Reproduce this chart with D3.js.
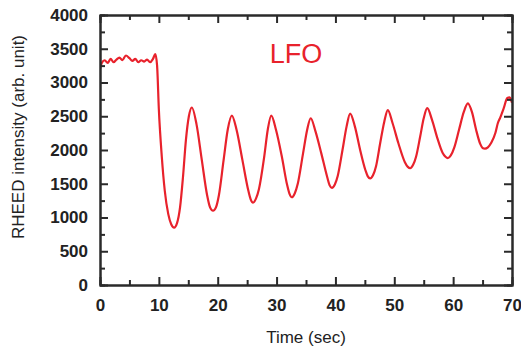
<!DOCTYPE html>
<html>
<head>
<meta charset="utf-8">
<script src="https://cdn.jsdelivr.net/npm/d3@7"></script>
<style>
  html, body { margin: 0; padding: 0; background: #fff; }
  svg { display: block; font-family: "Liberation Sans", Arial, sans-serif; }
</style>
</head>
<body>
<svg id="chart" width="521" height="346"></svg>
<script>
// RHEED intensity oscillations during LFO growth
const timeSec = [
  0, 0.3, 0.8, 1.3, 1.8, 2.3, 2.8, 3.3, 3.8, 4.4, 5, 5.5, 6, 6.5, 7, 7.5, 8, 8.5, 9, 9.4,
  9.7, 10.0, 10.5, 11.0, 11.6, 12.1, 12.6, 13.1, 13.6, 14.1, 14.6, 15.1, 15.6,
  16.4, 17.3, 18.2, 18.7, 19.2, 19.7, 20.2, 21.0, 21.7, 22.4,
  23.2, 24.2, 25.2, 25.6, 26.0, 26.5, 27.0, 27.9, 28.5, 29.1,
  29.9, 30.9, 31.8, 32.2, 32.6, 33.1, 33.6, 34.5, 35.2, 35.8,
  36.6, 37.6, 38.6, 39.0, 39.4, 39.9, 40.4, 41.2, 41.9, 42.5,
  43.3, 44.2, 45.1, 45.5, 45.9, 46.4, 46.9, 47.6, 48.3, 48.9,
  49.7, 50.7, 51.8, 52.3, 52.7, 53.2, 53.7, 54.4, 55.0, 55.6,
  56.4, 57.3, 58.2, 58.7, 59.1, 59.6, 60.2, 61.0, 61.8, 62.5,
  63.2, 63.9, 64.6, 65.0, 65.4, 65.9, 66.5, 67.2, 67.6, 68.0, 68.6, 69.2, 69.6, 70
];
const intensity = [
  3200, 3290, 3330, 3290, 3350, 3300, 3340, 3370, 3330, 3400, 3360, 3320, 3350, 3300, 3330, 3310, 3340, 3300, 3350, 3420,
  3250, 2600, 1900, 1400, 1050, 900, 850, 920, 1150, 1600, 2150, 2500, 2630,
  2380, 1850, 1330, 1150, 1100, 1150, 1330, 1850, 2300, 2510,
  2300, 1850, 1400, 1270, 1220, 1280, 1420, 1900, 2300, 2510,
  2300, 1900, 1480, 1350, 1300, 1360, 1500, 1950, 2300, 2470,
  2280, 1950, 1600, 1480, 1440, 1490, 1620, 2000, 2350, 2540,
  2350, 2000, 1700, 1610, 1580, 1630, 1760, 2100, 2420, 2590,
  2400, 2100, 1820, 1750, 1730, 1780, 1900, 2200, 2470, 2620,
  2450, 2180, 1960, 1900, 1880, 1920, 2040, 2300, 2560, 2690,
  2560, 2300, 2090, 2030, 2020, 2040, 2110, 2260, 2400, 2480, 2620, 2770, 2780, 2700
];
const xMajorTicks = [0, 10, 20, 30, 40, 50, 60, 70];
const xMinorTicks = [5, 15, 25, 35, 45, 55, 65];
const yMajorTicks = [0, 500, 1000, 1500, 2000, 2500, 3000, 3500, 4000];
const yMinorTicks = [250, 750, 1250, 1750, 2250, 2750, 3250, 3750];
const xTitle = "Time (sec)";
const yTitle = "RHEED intensity (arb. unit)";
const seriesLabel = "LFO";

const svg = d3.select("#chart");
const m = { left: 100, right: 9, top: 15, bottom: 61 };
const W = 521, H = 346;

const x = d3.scaleLinear().domain([0, 70]).range([m.left, W - m.right]);
const y = d3.scaleLinear().domain([0, 4000]).range([H - m.bottom, m.top]);

const axisColor = "#2a2a2a";
const lineColor = "#e8222c";

// curve
const pts = timeSec.map((t, i) => [t, intensity[i]]);
const clipId = "plot-clip";
svg.append("clipPath").attr("id", clipId)
  .append("rect")
  .attr("x", x(0)).attr("y", y(4000))
  .attr("width", x(70) - x(0)).attr("height", y(0) - y(4000));

svg.append("path")
  .datum(pts)
  .attr("clip-path", `url(#${clipId})`)
  .attr("fill", "none")
  .attr("stroke", lineColor)
  .attr("stroke-width", 2.2)
  .attr("stroke-linejoin", "round")
  .attr("d", d3.line().x(d => x(d[0])).y(d => y(d[1])).curve(d3.curveMonotoneX));

// axes with inward ticks on all four sides
function styleAxis(g) {
  g.selectAll("path.domain").attr("stroke", axisColor).attr("stroke-width", 2);
  g.selectAll(".tick line").attr("stroke", axisColor).attr("stroke-width", 2);
  g.selectAll(".tick text")
    .attr("fill", "#222")
    .style("font-size", "17px")
    .style("font-weight", "bold");
}

const maj = 8, mnr = 5;

svg.append("g").attr("transform", `translate(0,${y(0)})`)
  .call(d3.axisBottom(x).tickValues(xMinorTicks).tickSize(-mnr).tickFormat(""))
  .call(styleAxis);
svg.append("g").attr("transform", `translate(0,${y(0)})`)
  .call(d3.axisBottom(x).tickValues(xMajorTicks).tickSizeInner(-maj).tickSizeOuter(0).tickPadding(14).tickFormat(d3.format("d")))
  .call(styleAxis);

svg.append("g").attr("transform", `translate(0,${y(4000)})`)
  .call(d3.axisTop(x).tickValues(xMinorTicks).tickSize(-mnr).tickFormat(""))
  .call(styleAxis);
svg.append("g").attr("transform", `translate(0,${y(4000)})`)
  .call(d3.axisTop(x).tickValues(xMajorTicks).tickSizeInner(-maj).tickSizeOuter(0).tickFormat(""))
  .call(styleAxis);

svg.append("g").attr("transform", `translate(${x(0)},0)`)
  .call(d3.axisLeft(y).tickValues(yMinorTicks).tickSize(-mnr).tickFormat(""))
  .call(styleAxis);
svg.append("g").attr("transform", `translate(${x(0)},0)`)
  .call(d3.axisLeft(y).tickValues(yMajorTicks).tickSizeInner(-maj).tickSizeOuter(0).tickPadding(12).tickFormat(d3.format("d")))
  .call(styleAxis);

svg.append("g").attr("transform", `translate(${x(70)},0)`)
  .call(d3.axisRight(y).tickValues(yMinorTicks).tickSize(-mnr).tickFormat(""))
  .call(styleAxis);
svg.append("g").attr("transform", `translate(${x(70)},0)`)
  .call(d3.axisRight(y).tickValues(yMajorTicks).tickSizeInner(-maj).tickSizeOuter(0).tickFormat(""))
  .call(styleAxis);

// axis titles
svg.append("text")
  .attr("x", 306).attr("y", 343)
  .attr("text-anchor", "middle")
  .attr("fill", "#222")
  .style("font-size", "17px")
  .text(xTitle);

svg.append("text")
  .attr("transform", "translate(24,137) rotate(-90)")
  .attr("text-anchor", "middle")
  .attr("fill", "#222")
  .style("font-size", "17px")
  .text(yTitle);

// series label
svg.append("text")
  .attr("x", 296).attr("y", 63)
  .attr("text-anchor", "middle")
  .attr("fill", lineColor)
  .style("font-size", "27px")
  .text(seriesLabel);
</script>
</body>
</html>
